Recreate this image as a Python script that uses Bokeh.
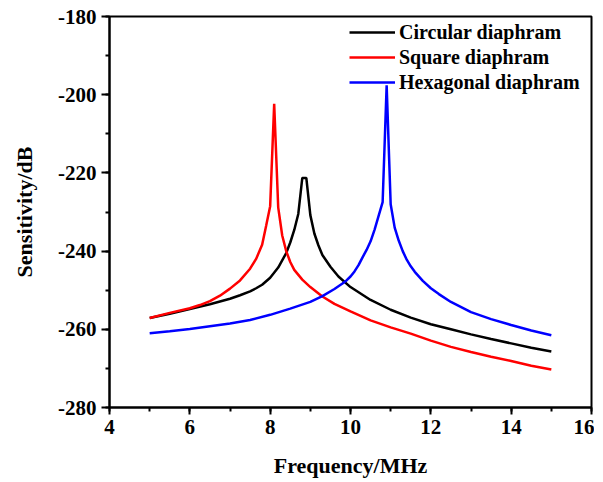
from bokeh.plotting import figure
from bokeh.models import (SingleIntervalTicker, Legend, LegendItem, Range1d,
                          CustomJSTickFormatter)
from bokeh.embed import file_html
from bokeh.resources import INLINE

# ---- data ----
circ_f = [5.0, 5.5, 6.0, 6.5, 7.0, 7.25, 7.5, 7.65, 7.8, 8.0, 8.2, 8.4, 8.5, 8.6,
          8.7, 8.8, 8.9, 9.0, 9.1, 9.2, 9.3, 9.5, 9.7, 10.0, 10.5, 11.0, 11.5,
          12.0, 12.5, 13.0, 13.5, 14.0, 14.5, 15.0]
circ_db = [-257.1, -256.0, -254.8, -253.6, -252.2, -251.3, -250.3, -249.5, -248.6,
           -246.8, -244.2, -240.5, -237.8, -234.6, -230.5, -221.3, -221.3, -230.8,
           -235.5, -238.5, -241.0, -244.0, -246.5, -249.2, -252.5, -255.0, -257.0,
           -258.7, -260.0, -261.3, -262.5, -263.6, -264.7, -265.7]

sq_f = [5.0, 5.5, 6.0, 6.25, 6.5, 6.75, 7.0, 7.25, 7.5, 7.65, 7.8, 7.9, 8.0, 8.1,
        8.2, 8.3, 8.4, 8.5, 8.6, 8.8, 9.0, 9.3, 9.6, 10.0, 10.5, 11.0, 11.5, 12.0,
        12.5, 13.0, 13.5, 14.0, 14.5, 15.0]
sq_db = [-257.1, -255.8, -254.6, -253.8, -252.8, -251.4, -249.6, -247.5, -244.5,
         -242.0, -238.4, -233.5, -228.5, -202.3, -228.8, -236.0, -240.0, -242.8,
         -244.8, -247.3, -249.2, -251.6, -253.5, -255.4, -257.7, -259.5, -261.1,
         -262.9, -264.5, -265.8, -267.0, -268.1, -269.3, -270.3]

hex_f = [5.0, 5.5, 6.0, 6.5, 7.0, 7.5, 8.0, 8.5, 9.0, 9.3, 9.6, 9.8, 9.9, 10.0,
         10.1, 10.2, 10.3, 10.4, 10.5, 10.6, 10.7, 10.8, 10.9, 11.0, 11.1, 11.2,
         11.3, 11.4, 11.5, 11.6, 11.8, 12.0, 12.2, 12.5, 13.0, 13.5, 14.0, 14.5,
         15.0]
hex_db = [-261.0, -260.5, -259.9, -259.2, -258.5, -257.6, -256.3, -254.7, -253.0,
          -251.5, -249.7, -248.3, -247.5, -246.5, -245.2, -243.6, -241.6, -239.7,
          -237.5, -234.5, -231.0, -227.5, -197.6, -228.0, -234.0, -237.3, -240.0,
          -242.2, -243.9, -245.3, -247.6, -249.5, -251.0, -253.0, -255.6, -257.4,
          -258.9, -260.3, -261.5]

series_names = ["Circular diaphram", "Square diaphram", "Hexagonal diaphram"]
series_colors = ["black", "red", "blue"]

x_range = (4, 16)
y_range = (-280, -180)
x_tick_step = 2
y_tick_step = 20

FONT = "Liberation Serif"

p = figure(frame_width=482, frame_height=391,
           min_border_left=109, min_border_top=16, min_border_right=3,
           min_border_bottom=70,
           x_range=Range1d(*x_range), y_range=Range1d(*y_range),
           output_backend="svg", toolbar_location=None)

p.xgrid.visible = False
p.ygrid.visible = False
p.outline_line_color = "black"
p.outline_line_width = 2
p.outline_line_alpha = 1

p.xaxis.ticker = SingleIntervalTicker(interval=x_tick_step, num_minor_ticks=2)
p.yaxis.ticker = SingleIntervalTicker(interval=y_tick_step, num_minor_ticks=2)
fmt = CustomJSTickFormatter(code="return tick.toFixed(0);")
p.xaxis.formatter = fmt
p.yaxis.formatter = fmt

for ax in (p.xaxis[0], p.yaxis[0]):
    ax.axis_line_width = 2
    ax.axis_line_color = "black"
    ax.major_tick_line_width = 2
    ax.minor_tick_line_width = 2
    ax.major_tick_in = 0
    ax.minor_tick_in = 0
    ax.major_label_text_font = FONT
    ax.major_label_text_font_style = "bold"
    ax.major_label_text_font_size = "21px"
    ax.major_label_text_color = "black"
    ax.axis_label_text_font = FONT
    ax.axis_label_text_font_style = "bold"
    ax.axis_label_text_font_size = "22px"
    ax.axis_label_text_color = "black"

p.xaxis.major_tick_out = 7
p.xaxis.minor_tick_out = 4
p.yaxis.major_tick_out = 8
p.yaxis.minor_tick_out = 4
p.xaxis.major_label_standoff = 5
p.yaxis.major_label_standoff = 5
p.xaxis.axis_label = "Frequency/MHz"
p.yaxis.axis_label = "Sensitivity/dB"
p.xaxis.axis_label_standoff = 16
p.yaxis.axis_label_standoff = 18

r1 = p.line(circ_f, circ_db, line_color=series_colors[0], line_width=2.5)
r2 = p.line(sq_f, sq_db, line_color=series_colors[1], line_width=2.5)
r3 = p.line(hex_f, hex_db, line_color=series_colors[2], line_width=2.5)

legend = Legend(items=[LegendItem(label=series_names[0], renderers=[r1]),
                       LegendItem(label=series_names[1], renderers=[r2]),
                       LegendItem(label=series_names[2], renderers=[r3])],
                location=(240, 313))
legend.border_line_color = None
legend.background_fill_alpha = 0
legend.padding = 4
legend.margin = 0
legend.spacing = 1
legend.glyph_width = 46
legend.glyph_height = 24
legend.label_height = 24
legend.label_standoff = 4
legend.label_text_font = FONT
legend.label_text_font_style = "bold"
legend.label_text_font_size = "20px"
legend.label_text_color = "black"
p.add_layout(legend, "center")

open("out.html", "w").write(file_html(p, INLINE))
